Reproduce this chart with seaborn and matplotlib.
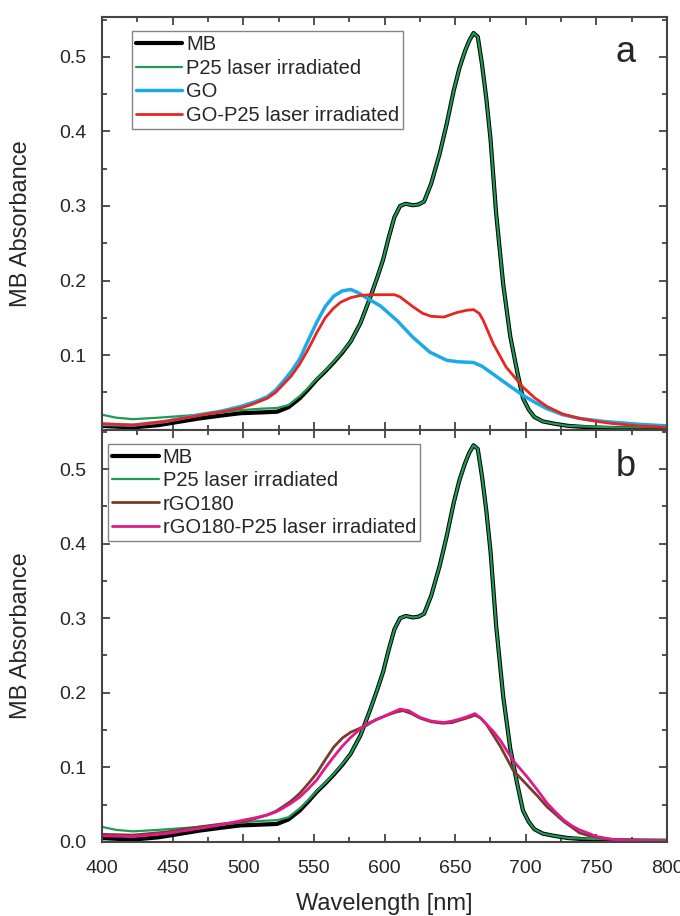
import numpy as np
import pandas as pd
import matplotlib
matplotlib.use("Agg")
import matplotlib.pyplot as plt
from matplotlib.ticker import MultipleLocator
import seaborn as sns

sns.set_style("ticks")
plt.rcParams['font.family'] = ['Liberation Sans', 'DejaVu Sans']

# ---- data (wavelength in nm, absorbance) ----
wl_mb = [400, 410, 422, 440, 469, 485, 498, 512, 524, 532, 540, 546, 552, 558, 564, 570,
         576, 583, 590, 595, 599, 603, 607, 611, 615, 620, 624, 628, 633, 639, 644, 649,
         653, 657, 660, 663, 666, 669, 672, 675, 679, 684, 689, 694, 698, 702, 706, 712,
         720, 730, 745, 765, 800]
mb = [0.005, 0.004, 0.003, 0.006, 0.015, 0.019, 0.022, 0.023, 0.024, 0.030, 0.042, 0.054,
      0.067, 0.078, 0.090, 0.103, 0.118, 0.143, 0.178, 0.205, 0.228, 0.258, 0.285, 0.300,
      0.303, 0.301, 0.302, 0.306, 0.330, 0.370, 0.410, 0.455, 0.485, 0.508, 0.522, 0.532,
      0.527, 0.490, 0.445, 0.390, 0.290, 0.195, 0.125, 0.077, 0.042, 0.027, 0.017, 0.011,
      0.008, 0.005, 0.003, 0.002, 0.001]
p25 = [0.020, 0.016, 0.014, 0.016, 0.020, 0.023, 0.026, 0.028, 0.029, 0.033, 0.045, 0.056,
       0.068, 0.079, 0.091, 0.104, 0.118, 0.143, 0.178, 0.205, 0.228, 0.258, 0.285, 0.300,
       0.303, 0.301, 0.302, 0.306, 0.330, 0.370, 0.410, 0.455, 0.485, 0.508, 0.522, 0.532,
       0.527, 0.490, 0.445, 0.390, 0.290, 0.195, 0.125, 0.077, 0.042, 0.027, 0.017, 0.011,
       0.008, 0.005, 0.004, 0.003, 0.003]

wl_go = [400, 422, 445, 469, 485, 498, 508, 517, 523, 528, 534, 540, 546, 552, 558, 564,
         570, 576, 581, 587, 597, 609, 620, 632, 644, 652, 663, 669, 675, 686, 698, 707,
         715, 726, 738, 755, 781, 800]
go = [0.007, 0.006, 0.011, 0.020, 0.025, 0.031, 0.037, 0.044, 0.053, 0.064, 0.078, 0.095,
      0.120, 0.144, 0.165, 0.179, 0.186, 0.188, 0.184, 0.177, 0.166, 0.146, 0.124, 0.104,
      0.093, 0.091, 0.090, 0.085, 0.077, 0.062, 0.046, 0.036, 0.028, 0.020, 0.015, 0.011,
      0.007, 0.005]

wl_gop = [400, 422, 445, 469, 485, 498, 505, 517, 523, 528, 534, 540, 546, 552, 558, 564,
          569, 576, 583, 590, 600, 607, 611, 620, 627, 633, 642, 651, 658, 663, 667, 670,
          677, 686, 698, 706, 715, 726, 738, 750, 762, 780, 800]
go_p25 = [0.008, 0.006, 0.011, 0.019, 0.024, 0.029, 0.033, 0.042, 0.050, 0.060, 0.072, 0.088,
          0.108, 0.130, 0.150, 0.163, 0.171, 0.177, 0.180, 0.181, 0.181, 0.181, 0.178, 0.165,
          0.156, 0.152, 0.151, 0.157, 0.160, 0.161, 0.156, 0.146, 0.115, 0.084, 0.057, 0.043,
          0.031, 0.021, 0.015, 0.011, 0.008, 0.005, 0.003]

wl_rgo = [400, 422, 445, 469, 485, 500, 508, 517, 523, 528, 534, 540, 546, 552, 558, 564,
          570, 576, 587, 594, 602, 608, 613, 619, 625, 633, 641, 648, 653, 660, 664, 668,
          672, 677, 682, 691, 701, 708, 715, 721, 727, 733, 738, 745, 757, 770, 800]
rgo = [0.010, 0.009, 0.013, 0.020, 0.024, 0.027, 0.031, 0.036, 0.041, 0.047, 0.055, 0.065,
       0.078, 0.092, 0.110, 0.127, 0.139, 0.147, 0.156, 0.164, 0.170, 0.174, 0.176, 0.172,
       0.166, 0.161, 0.159, 0.160, 0.163, 0.167, 0.170, 0.166, 0.158, 0.143, 0.128, 0.096,
       0.076, 0.062, 0.047, 0.037, 0.027, 0.019, 0.012, 0.008, 0.004, 0.002, 0.001]

wl_rgop = [400, 422, 445, 469, 485, 500, 508, 517, 523, 528, 534, 540, 546, 552, 558, 564,
           570, 576, 582, 587, 592, 597, 605, 611, 617, 625, 633, 642, 648, 654, 660, 664,
           668, 672, 677, 682, 691, 701, 708, 715, 721, 727, 733, 738, 745, 750, 762, 780, 800]
rgo_p25 = [0.008, 0.007, 0.011, 0.018, 0.023, 0.029, 0.032, 0.036, 0.040, 0.045, 0.052, 0.060,
           0.071, 0.083, 0.099, 0.114, 0.128, 0.140, 0.150, 0.158, 0.162, 0.166, 0.173, 0.178,
           0.176, 0.167, 0.162, 0.160, 0.162, 0.165, 0.169, 0.172, 0.166, 0.158, 0.148, 0.136,
           0.109, 0.087, 0.070, 0.052, 0.040, 0.029, 0.021, 0.016, 0.011, 0.007, 0.003, 0.002,
           0.001]

fig, (ax1, ax2) = plt.subplots(2, 1, figsize=(6.8, 9.16), dpi=100, sharex=True)
fig.subplots_adjust(left=0.15, right=0.981, top=0.981, bottom=0.081, hspace=0.0)

c_mb, c_p25 = 'black', '#1e9a55'

# panel a
sns.lineplot(x=wl_mb, y=mb, ax=ax1, color=c_mb, lw=3.0, label='MB')
sns.lineplot(x=wl_mb, y=p25, ax=ax1, color=c_p25, lw=1.6, label='P25 laser irradiated')
sns.lineplot(x=wl_go, y=go, ax=ax1, color='#1ca9ea', lw=2.5, label='GO')
sns.lineplot(x=wl_gop, y=go_p25, ax=ax1, color='#e8251f', lw=2.0, label='GO-P25 laser irradiated')

# panel b
sns.lineplot(x=wl_mb, y=mb, ax=ax2, color=c_mb, lw=3.0, label='MB')
sns.lineplot(x=wl_mb, y=p25, ax=ax2, color=c_p25, lw=1.6, label='P25 laser irradiated')
sns.lineplot(x=wl_rgo, y=rgo, ax=ax2, color='#7a3b2c', lw=2.0, label='rGO180')
sns.lineplot(x=wl_rgop, y=rgo_p25, ax=ax2, color='#e0198c', lw=2.0, label='rGO180-P25 laser irradiated')

for ax in (ax1, ax2):
    ax.set_xlim(400, 800)
    ax.set_ylim(0.0, 0.553)
    ax.xaxis.set_major_locator(MultipleLocator(50))
    ax.xaxis.set_minor_locator(MultipleLocator(25))
    ax.yaxis.set_major_locator(MultipleLocator(0.1))
    ax.yaxis.set_minor_locator(MultipleLocator(0.05))
    ax.tick_params(which='both', direction='in', top=True, right=True, labelsize=14,
                   color='#333333', width=1.2)
    ax.tick_params(axis='y', pad=11)
    ax.tick_params(axis='x', pad=13)
    ax.tick_params(which='major', length=6)
    ax.tick_params(which='minor', length=3.5)
    for s in ax.spines.values():
        s.set_color('#444444')
        s.set_linewidth(1.5)
    ax.set_ylabel('MB Absorbance', fontsize=17)
    ax.yaxis.set_label_coords(-0.124, 0.5)

ax1.set_yticks([0.1, 0.2, 0.3, 0.4, 0.5])
ax1.set_yticklabels(['0.1', '0.2', '0.3', '0.4', '0.5'])
ax2.set_yticks([0.0, 0.1, 0.2, 0.3, 0.4, 0.5])
ax2.set_yticklabels(['0.0', '0.1', '0.2', '0.3', '0.4', '0.5'])
ax1.tick_params(labelbottom=False)
ax2.set_xlabel('Wavelength [nm]', fontsize=17)
ax2.xaxis.set_label_coords(0.5, -0.125)

leg_kw = dict(fontsize=14.5, frameon=True, fancybox=False, handlelength=2.3,
              handletextpad=0.2, labelspacing=0.22, borderpad=0.2, borderaxespad=0.0)
l1 = ax1.legend(loc='upper left', bbox_to_anchor=(0.053, 0.966), **leg_kw)
l2 = ax2.legend(loc='upper left', bbox_to_anchor=(0.011, 0.966), **leg_kw)
for lg in (l1, l2):
    lg.get_frame().set_edgecolor('#666666')
    lg.get_frame().set_linewidth(1.0)

ax1.text(0.927, 0.915, 'a', transform=ax1.transAxes, fontsize=26, ha='center', va='center')
ax2.text(0.927, 0.91, 'b', transform=ax2.transAxes, fontsize=26, ha='center', va='center')

fig.savefig('out.png', dpi=100)
